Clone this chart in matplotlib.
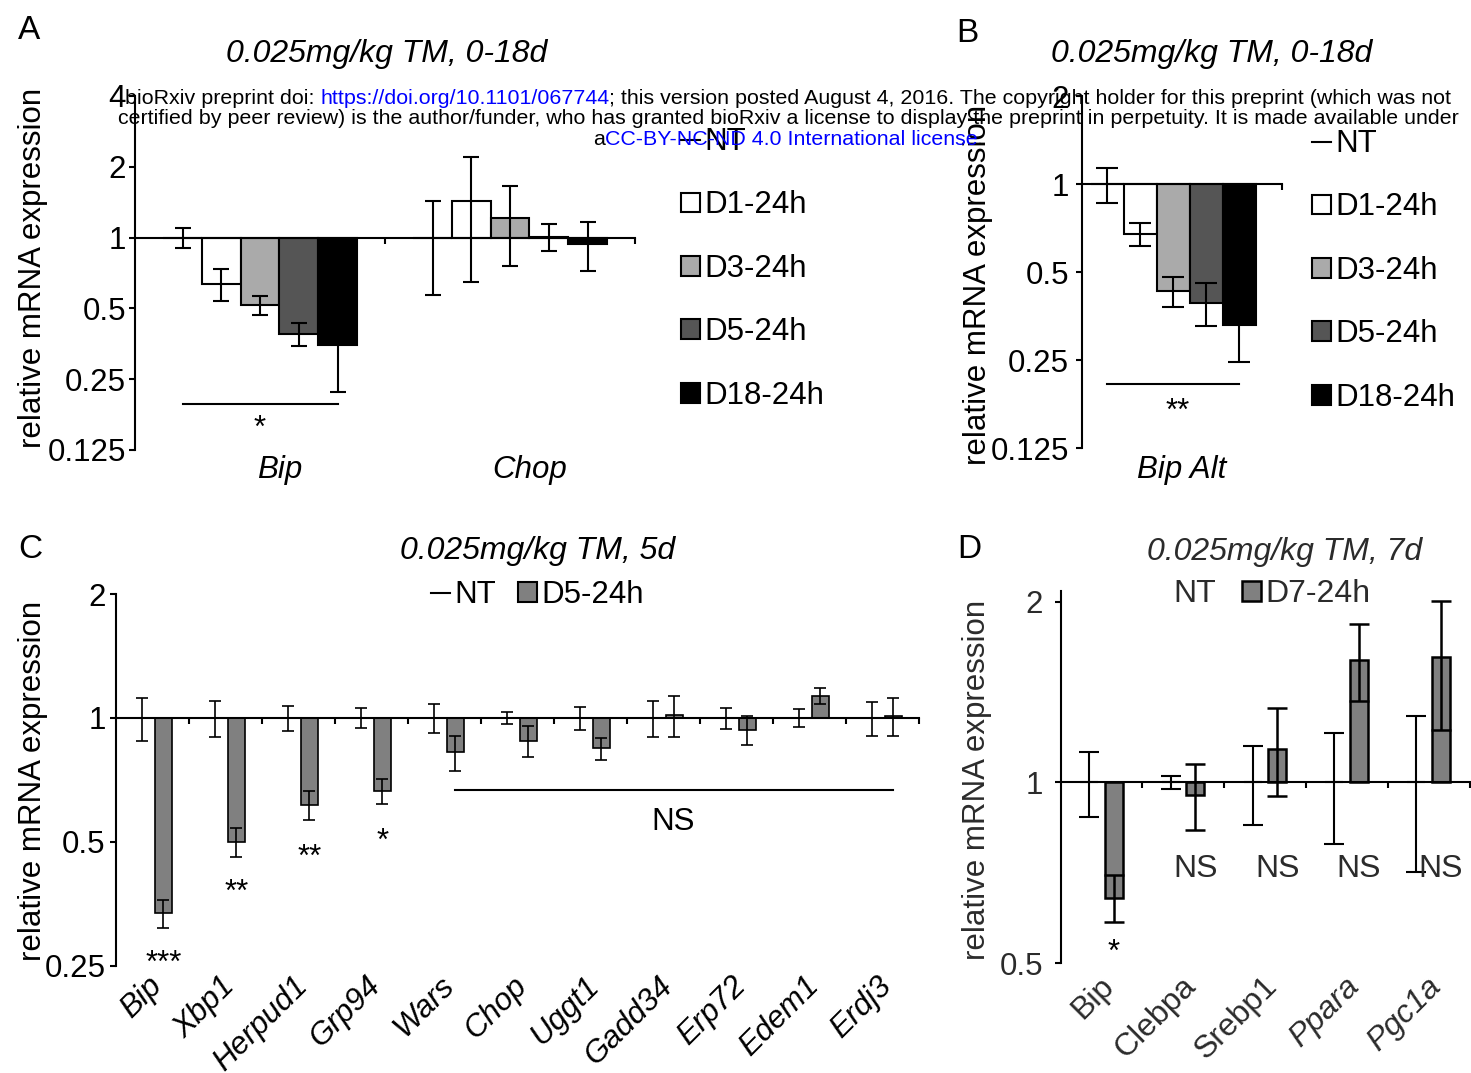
import numpy as np
import matplotlib.pyplot as plt
import matplotlib.transforms as mtransforms
from matplotlib.patches import Patch
from matplotlib.lines import Line2D

plt.rcParams['font.family'] = ['Liberation Sans', 'DejaVu Sans']

W, H = 1471, 1073
fig = plt.figure(figsize=(W / 100, H / 100), dpi=100)

# ---------------- data ----------------
# Panel A: 0.025mg/kg TM, 0-18d
genes_a = ['Bip', 'Chop']
series_a = ['NT', 'D1-24h', 'D3-24h', 'D5-24h', 'D18-24h']
nt_a = [1.0, 1.0]
nt_a_err = [0.10, 0.43]
d1_a = [0.638, 1.43]
d1_a_err = [0.10, 0.78]
d3_a = [0.517, 1.21]
d3_a_err = [0.048, 0.45]
d5_a = [0.39, 1.01]
d5_a_err = [0.045, 0.135]
d18_a = [0.348, 0.94]
d18_a_err = [0.127, 0.22]

# Panel B: Bip Alt
genes_b = ['Bip Alt']
nt_b = [1.0]
nt_b_err = [0.14]
d1_b = [0.675]
d1_b_err = [0.06]
d3_b = [0.431]
d3_b_err = [0.05]
d5_b = [0.393]
d5_b_err = [0.065]
d18_b = [0.329]
d18_b_err = [0.083]

# Panel C: 0.025mg/kg TM, 5d
genes_c = ['Bip', 'Xbp1', 'Herpud1', 'Grp94', 'Wars', 'Chop', 'Uggt1',
           'Gadd34', 'Erp72', 'Edem1', 'Erdj3']
nt_c = [1.0] * 11
nt_c_err = [0.12, 0.10, 0.07, 0.055, 0.08, 0.035, 0.063, 0.10, 0.058, 0.052, 0.095]
d5_c = [0.335, 0.50, 0.614, 0.664, 0.825, 0.88, 0.843, 1.015, 0.934, 1.129, 1.01]
d5_c_err = [0.027, 0.04, 0.05, 0.047, 0.08, 0.075, 0.053, 0.115, 0.075, 0.05, 0.105]
stars_c = ['***', '**', '**', '*']
stars_c_y = [0.252, 0.376, 0.458, 0.50]
ns_c_y = 0.667

# Panel D: 0.025mg/kg TM, 7d
genes_d = ['Bip', 'Clebpa', 'Srebp1', 'Ppara', 'Pgc1a']
italic_d = [False, False, False, True, True]
nt_d = [1.0] * 5
nt_d_err = [0.125, 0.025, 0.15, 0.21, 0.29]
d7_d = [0.643, 0.953, 1.139, 1.602, 1.615]
d7_d_err = [0.058, 0.12, 0.19, 0.235, 0.39]
labels_d = ['*', 'NS', 'NS', 'NS', 'NS']
labels_d_y = [0.52, 0.719, 0.719, 0.719, 0.719]

colors_a = ['white', 'white', '#aaaaaa', '#555555', '#000000']
grey = '#808080'
dark = '#2b2b2b'
FS = 22.5


def px_axes(left, right, top, bottom):
    return fig.add_axes([left / W, 1 - bottom / H, (right - left) / W, (bottom - top) / H])


def style_axes(ax, ylim, yticks, xlim, pad, color='black'):
    ax.set_yscale('log', base=2)
    ax.set_ylim(*ylim)
    ax.set_xlim(*xlim)
    ax.set_yticks(yticks, [f'{t:g}' for t in yticks])
    ax.minorticks_off()
    ax.set_xticks(np.arange(xlim[0] + 1, xlim[1] + 0.01, 1))
    ax.set_xticklabels([])
    for s in ['top', 'right']:
        ax.spines[s].set_visible(False)
    ax.spines['bottom'].set_position(('data', 1))
    ax.spines['left'].set_linewidth(1.5)
    ax.spines['bottom'].set_linewidth(1.5)
    ax.tick_params(axis='x', direction='out', length=4.5, width=1.5)
    ax.tick_params(axis='y', direction='out', length=4.5, width=1.5,
                   labelsize=FS, pad=pad, labelcolor=color)
    ax.patch.set_visible(False)


def below(ax, px):
    # x in data, y offset in pixels under the axes bottom
    return mtransforms.blended_transform_factory(ax.transData, ax.transAxes) + \
        mtransforms.ScaledTranslation(0, -px / 100, fig.dpi_scale_trans)


def draw_group(ax, x, means, errs, width, color, lw, capsize):
    ax.bar(x, np.array(means) - 1, bottom=1, width=width, color=color,
           edgecolor='black', linewidth=lw, zorder=2)
    ax.errorbar(x, means, yerr=errs, fmt='none', ecolor='black',
                elinewidth=lw, capsize=capsize, capthick=lw, zorder=3)


def add_legend(handles, labels, x_px, y_px, ncol=1, fs=FS, spacing=1.07,
               colspace=0.7, color='black'):
    return fig.legend(handles, labels, loc='upper left',
                      bbox_to_anchor=(x_px / W, 1 - y_px / H), ncol=ncol,
                      frameon=False, fontsize=fs, handlelength=0.6,
                      handleheight=0.6, handletextpad=0.15,
                      labelspacing=spacing, columnspacing=colspace,
                      borderpad=0, borderaxespad=0, labelcolor=color)


def ftext(x, y, s, **kw):
    return fig.text(x / W, 1 - y / H, s, **kw)


# ---------------- panel A ----------------
ax_a = px_axes(135, 635, 96, 450)
style_axes(ax_a, (0.125, 4), [0.125, 0.25, 0.5, 1, 2, 4], (-0.5, 1.5), pad=2)
w_a = 0.155
xa = np.arange(len(genes_a))
means_a = [nt_a, d1_a, d3_a, d5_a, d18_a]
errs_a = [nt_a_err, d1_a_err, d3_a_err, d5_a_err, d18_a_err]
for i in range(5):
    draw_group(ax_a, xa + (i - 2) * w_a, means_a[i], errs_a[i], w_a,
               colors_a[i], 1.5, 6)
for i, g in enumerate(genes_a):
    ax_a.text(xa[i] + 0.08, 0, g, transform=below(ax_a, 28), ha='center',
              va='baseline', fontsize=FS, style='italic')
ax_a.plot([xa[0] - 2 * w_a, xa[0] + 2 * w_a], [0.196, 0.196], color='black', lw=1.5)
ax_a.text(xa[0], 0.153, '*', ha='center', va='center', fontsize=FS)

hand_a = [Line2D([0], [0], color='black', lw=1.5)] + \
    [Patch(facecolor=c, edgecolor='black', lw=1.5) for c in colors_a[1:]]
add_legend(hand_a, series_a, 681, 127)

# ---------------- panel B ----------------
ax_b = px_axes(1082, 1282, 96.3, 448.3)
style_axes(ax_b, (0.125, 2), [0.125, 0.25, 0.5, 1, 2], (-0.5, 0.5), pad=5)
w_b = 0.165
xb = np.arange(len(genes_b))
means_b = [nt_b, d1_b, d3_b, d5_b, d18_b]
errs_b = [nt_b_err, d1_b_err, d3_b_err, d5_b_err, d18_b_err]
for i in range(5):
    draw_group(ax_b, xb + (i - 2) * w_b - 0.045, means_b[i], errs_b[i], w_b,
               colors_a[i], 1.5, 8)
ax_b.text(xb[0], 0, genes_b[0], transform=below(ax_b, 30), ha='center',
          va='baseline', fontsize=FS, style='italic')
ax_b.plot([xb[0] - 2 * w_b - 0.045, xb[0] + 2 * w_b - 0.045], [0.208, 0.208],
          color='black', lw=1.5)
ax_b.text(xb[0] - 0.02, 0.166, '**', ha='center', va='center', fontsize=FS)
add_legend(hand_a, series_a, 1312, 129)

# ---------------- panel C ----------------
ax_c = px_axes(116, 919, 594, 965.7)
style_axes(ax_c, (0.25, 2), [0.25, 0.5, 1, 2], (-0.5, 10.5), pad=3)
w_c = 0.237
xc = np.arange(len(genes_c))
draw_group(ax_c, xc - 0.144, nt_c, nt_c_err, w_c, 'white', 1.2, 4.5)
draw_group(ax_c, xc + 0.15, d5_c, d5_c_err, w_c, grey, 1.2, 4.5)
for i, g in enumerate(genes_c):
    ax_c.text(xc[i] - 0.08, 0, g, transform=below(ax_c, 5), rotation=45,
              rotation_mode='anchor', ha='right', va='top', fontsize=FS,
              style='italic')
for i, s in enumerate(stars_c):
    ax_c.text(xc[i] + 0.15, stars_c_y[i], s, ha='center', va='center', fontsize=FS)
ax_c.plot([xc[4] + 0.15, xc[10] + 0.15], [ns_c_y, ns_c_y], color='black', lw=1.5)
ax_c.text(7.13, 0.56, 'NS', ha='center', va='center', fontsize=FS)
add_legend([Line2D([0], [0], color='black', lw=1.5),
            Patch(facecolor=grey, edgecolor='black', lw=1.5)],
           ['NT', 'D5-24h'], 431, 580, ncol=2, colspace=0.7)

# ---------------- panel D ----------------
ax_d = px_axes(1060.5, 1469.5, 590.7, 963.3)
style_axes(ax_d, (0.5, 2.086), [0.5, 1, 2], (-0.5, 4.5), pad=8, color=dark)
w_d = 0.22
xd = np.arange(len(genes_d))
draw_group(ax_d, xd - 0.152, nt_d, nt_d_err, w_d, 'white', 1.5, 7)
draw_group(ax_d, xd + 0.149, d7_d, d7_d_err, w_d, grey, 1.8, 7)
for i, g in enumerate(genes_d):
    ax_d.text(xd[i] - 0.03, 0, g, transform=below(ax_d, 8), rotation=45,
              rotation_mode='anchor', ha='right', va='top', fontsize=23,
              color=dark, style='italic' if italic_d[i] else 'normal')
for i, s in enumerate(labels_d):
    ax_d.text(xd[i] + 0.15, labels_d_y[i], s, ha='center', va='center',
              fontsize=23 if s == 'NS' else FS, color=dark if s == 'NS' else 'black')
add_legend([Patch(facecolor='none', edgecolor='none'),
            Patch(facecolor=grey, edgecolor='black', lw=1.8)],
           ['NT', 'D7-24h'], 1149.5, 579, ncol=2, fs=23, colspace=0.8, color=dark)

# ---------------- titles, labels ----------------
for x, y, s in [(18, 39, 'A'), (956, 42, 'B'), (18, 558, 'C'), (957, 558, 'D')]:
    ftext(x, y, s, fontsize=24, ha='left', va='baseline')
ftext(386.5, 62, '0.025mg/kg TM, 0-18d', fontsize=23, style='italic', ha='center', va='baseline')
ftext(1212, 62, '0.025mg/kg TM, 0-18d', fontsize=23, style='italic', ha='center', va='baseline')
ftext(537.5, 559, '0.025mg/kg TM, 5d', fontsize=23, style='italic', ha='center', va='baseline')
ftext(1284.5, 560, '0.025mg/kg TM, 7d', fontsize=23, style='italic', ha='center',
      va='baseline', color=dark)
ylab = 'relative mRNA expression'
ftext(33, 268, ylab, fontsize=FS, rotation=90, ha='center', va='center')
ftext(978, 285, ylab, fontsize=FS, rotation=90, ha='center', va='center')
ftext(33, 781, ylab, fontsize=FS, rotation=90, ha='center', va='center')
ftext(977, 780, ylab, fontsize=FS, rotation=90, ha='center', va='center', color=dark)

# ---------------- bioRxiv header ----------------
blue = '#0000ff'
header = [
    (103.5, [('bioRxiv preprint doi: ', 'black'), ('https://doi.org/10.1101/067744', blue),
             ('; this version posted August 4, 2016. The copyright holder for this preprint (which was not', 'black')]),
    (124.5, [('certified by peer review) is the author/funder, who has granted bioRxiv a license to display the preprint in perpetuity. It is made available under', 'black')]),
    (145.5, [('a', 'black'), ('CC-BY-NC-ND 4.0 International license', blue), ('.', 'black')]),
]
lines = []
for y, parts in header:
    lines.append([ftext(0, y, s, color=c, fontsize=15.4, ha='left',
                        va='baseline', zorder=10) for s, c in parts])

fig.canvas.draw()
renderer = fig.canvas.get_renderer()
for texts in lines:
    widths = [t.get_window_extent(renderer).width for t in texts]
    x = 788 - sum(widths) / 2
    for t, w in zip(texts, widths):
        t.set_x(x / W)
        x += w

fig.savefig('out.png', dpi=100)
